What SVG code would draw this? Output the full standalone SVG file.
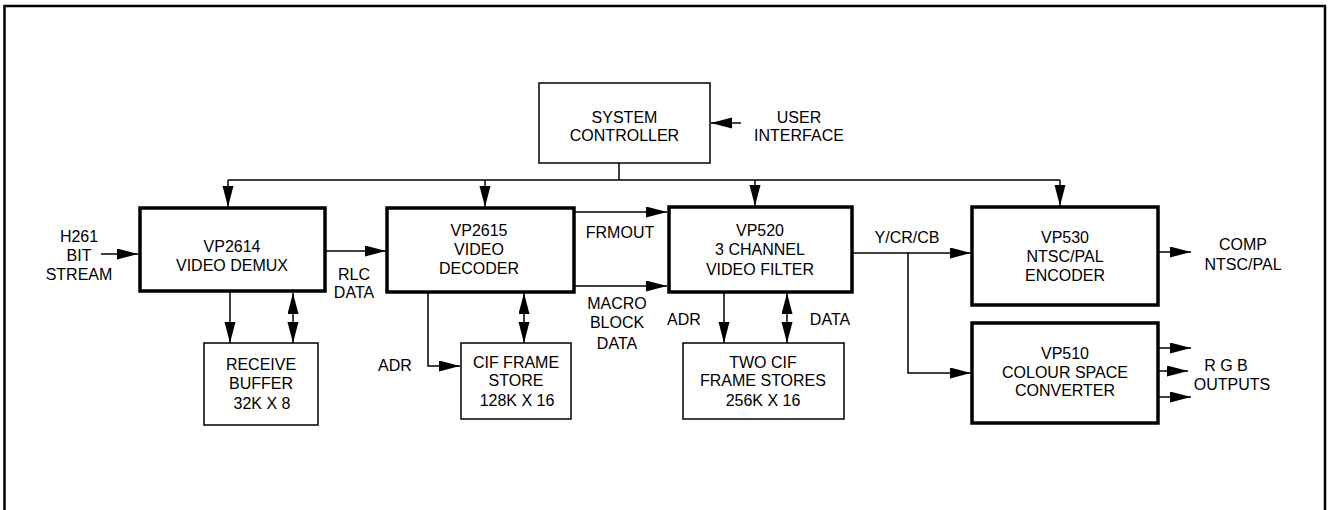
<svg xmlns="http://www.w3.org/2000/svg" width="1329" height="510" viewBox="0 0 1329 510">
<defs>
<marker id="ah" markerUnits="userSpaceOnUse" markerWidth="23" markerHeight="12" refX="21" refY="5.5" orient="auto-start-reverse">
<path d="M0,0 L21,5.5 L0,11 z" fill="#000"/>
</marker>
<style>
text{font-family:"Liberation Sans",Arial,sans-serif;font-size:16px;fill:#000;text-anchor:middle}
.thick{fill:#fff;stroke:#000;stroke-width:3.5}
.thin{fill:#fff;stroke:#000;stroke-width:1.5}
.c{fill:none;stroke:#000;stroke-width:1.5}
.a{fill:none;stroke:#000;stroke-width:1.5;marker-end:url(#ah)}
.d{fill:none;stroke:#000;stroke-width:1.5;marker-start:url(#ah);marker-end:url(#ah)}
</style>
</defs>
<rect x="0" y="0" width="1329" height="510" fill="#fff"/>
<rect x="4.5" y="6" width="1320.5" height="520" fill="none" stroke="#000" stroke-width="2.5"/>

<g id="connectors">
<line class="c" x1="619" y1="163" x2="619" y2="180"/>
<line class="c" x1="228" y1="180" x2="1060" y2="180"/>
<line class="a" x1="228" y1="180" x2="228" y2="207"/>
<line class="a" x1="485" y1="180" x2="485" y2="207"/>
<line class="a" x1="755" y1="180" x2="755" y2="206"/>
<line class="a" x1="1060" y1="180" x2="1060" y2="206"/>
<line class="a" x1="741" y1="123" x2="711" y2="123"/>
<line class="a" x1="101" y1="254" x2="138" y2="254"/>
<line class="a" x1="325" y1="251" x2="386" y2="251"/>
<line class="a" x1="230" y1="292" x2="230" y2="343"/>
<line class="d" x1="293" y1="293" x2="293" y2="343"/>
<line class="a" x1="574" y1="212" x2="667" y2="212"/>
<line class="a" x1="574" y1="286" x2="667" y2="286"/>
<polyline class="a" points="428,292 428,366 460,366"/>
<line class="d" x1="524" y1="293" x2="524" y2="343"/>
<line class="a" x1="724" y1="292" x2="724" y2="343"/>
<line class="d" x1="787" y1="293" x2="787" y2="343"/>
<line class="a" x1="852" y1="253" x2="971" y2="253"/>
<polyline class="a" points="908,253 908,373 971,373"/>
<line class="a" x1="1158" y1="252" x2="1191" y2="252"/>
<line class="a" x1="1158" y1="348" x2="1191" y2="348"/>
<line class="a" x1="1158" y1="371" x2="1188" y2="371"/>
<line class="a" x1="1158" y1="397" x2="1191" y2="397"/>
</g>

<g id="labels">
<text x="79" y="242">H261</text>
<text x="79" y="261">BIT</text>
<text x="79" y="280">STREAM</text>
<text x="354" y="280">RLC</text>
<text x="354" y="298">DATA</text>
<text x="620" y="238">FRMOUT</text>
<text x="617" y="309">MACRO</text>
<text x="617" y="328">BLOCK</text>
<text x="617" y="349">DATA</text>
<text x="395" y="371">ADR</text>
<text x="684" y="325">ADR</text>
<text x="830" y="325">DATA</text>
<text x="907" y="243">Y/CR/CB</text>
<text x="799" y="123">USER</text>
<text x="799" y="141">INTERFACE</text>
<text x="1243" y="250">COMP</text>
<text x="1243" y="270">NTSC/PAL</text>
<text x="1226" y="371">R G B</text>
<text x="1232" y="390">OUTPUTS</text>
</g>

<g id="system-controller">
<rect class="thin" x="539" y="83" width="171" height="80"/>
<text x="624.5" y="123">SYSTEM</text>
<text x="624.5" y="141">CONTROLLER</text>
</g>

<g id="vp2614">
<rect class="thick" x="140" y="208" width="185" height="83"/>
<text x="232" y="252">VP2614</text>
<text x="232" y="271">VIDEO DEMUX</text>
</g>

<g id="receive-buffer">
<rect class="thin" x="204" y="343" width="114" height="82"/>
<text x="261" y="370">RECEIVE</text>
<text x="261" y="389">BUFFER</text>
<text x="262" y="409">32K X 8</text>
</g>

<g id="vp2615">
<rect class="thick" x="387" y="208" width="187" height="84"/>
<text x="479" y="236">VP2615</text>
<text x="479" y="255">VIDEO</text>
<text x="479" y="274">DECODER</text>
</g>

<g id="cif-frame-store">
<rect class="thin" x="461" y="343" width="110" height="76"/>
<text x="516" y="368">CIF FRAME</text>
<text x="516" y="386">STORE</text>
<text x="517" y="406">128K X 16</text>
</g>

<g id="vp520">
<rect class="thick" x="669" y="207" width="183" height="85"/>
<text x="760" y="236">VP520</text>
<text x="760" y="255">3 CHANNEL</text>
<text x="760" y="275">VIDEO FILTER</text>
</g>

<g id="two-cif-frame-stores">
<rect class="thin" x="683" y="343" width="161" height="76"/>
<text x="763" y="368">TWO CIF</text>
<text x="763" y="386">FRAME STORES</text>
<text x="763" y="406">256K X 16</text>
</g>

<g id="vp530">
<rect class="thick" x="972" y="207" width="186" height="98"/>
<text x="1065" y="243">VP530</text>
<text x="1065" y="262">NTSC/PAL</text>
<text x="1065" y="281">ENCODER</text>
</g>

<g id="vp510">
<rect class="thick" x="972" y="323" width="186" height="100"/>
<text x="1065" y="359">VP510</text>
<text x="1065" y="378">COLOUR SPACE</text>
<text x="1065" y="396">CONVERTER</text>
</g>
</svg>
